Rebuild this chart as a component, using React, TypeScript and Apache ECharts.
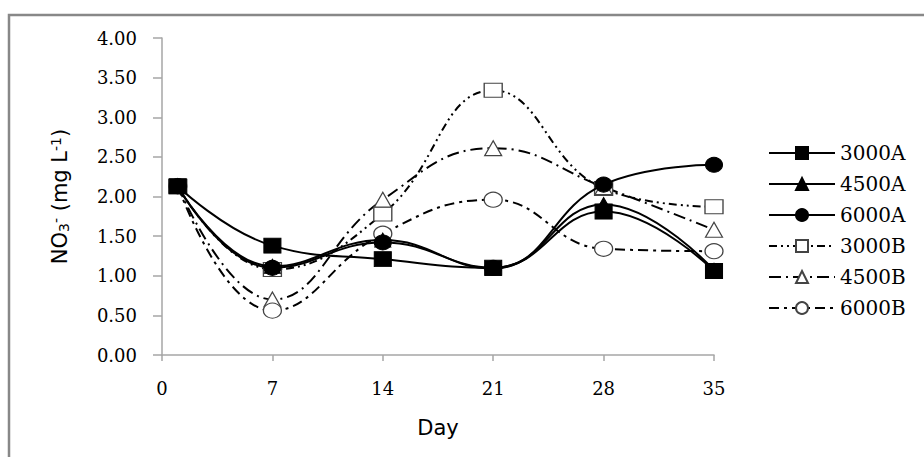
import React, { useEffect, useRef } from "react";
import * as echarts from "echarts";

const days = [1, 7, 14, 21, 28, 35];
const seriesNames = ["3000A", "4500A", "6000A", "3000B", "4500B", "6000B"];
const v3000A = [2.13, 1.38, 1.21, 1.1, 1.81, 1.06];
const v4500A = [2.13, 1.12, 1.45, 1.09, 1.9, 1.07];
const v6000A = [2.13, 1.1, 1.42, 1.1, 2.15, 2.4];
const v3000B = [2.13, 1.08, 1.78, 3.34, 2.1, 1.87];
const v4500B = [2.13, 0.7, 1.96, 2.61, 2.12, 1.58];
const v6000B = [2.13, 0.56, 1.53, 1.96, 1.34, 1.31];
const yTicks = [0, 0.5, 1, 1.5, 2, 2.5, 3, 3.5, 4];

const allValues = [v3000A, v4500A, v6000A, v3000B, v4500B, v6000B];
const symbols = ["rect", "triangle", "circle", "rect", "triangle", "circle"];
const symbolSizes: any[] = [[17, 15], [16, 14], [17, 15], [18, 14], [17, 15], [18, 15]];
const dashes: any[] = ["solid", "solid", "solid", [8, 4, 2, 4, 2, 4], [12, 5, 2, 5], [10, 5, 3, 5]];

export default function App() {
  const ref = useRef<HTMLDivElement>(null);
  useEffect(() => {
    if (!ref.current) return;
    const chart = echarts.init(ref.current, null, { renderer: "svg" });
    const series = seriesNames.map((name, i) => {
      const hollow = i >= 3;
      return {
        name,
        type: "line",
        smooth: 0.45,
        data: days.map((d, j) => [d, allValues[i][j]]),
        symbol: symbols[i],
        symbolSize: symbolSizes[i],
        z: hollow ? 2 : 3,
        lineStyle: { color: "#000", width: 2, type: dashes[i] },
        itemStyle: hollow
          ? { color: "#fff", borderColor: "#444", borderWidth: 1.2 }
          : { color: "#000", borderColor: "#000", borderWidth: 1 },
        emphasis: { disabled: true },
      };
    });
    chart.setOption({
      animation: false,
      backgroundColor: "#fff",
      grid: { left: 162, right: 210, top: 38, bottom: 102, containLabel: false },
      xAxis: {
        type: "value",
        min: 0,
        max: 35,
        interval: 7,
        name: "Day",
        nameLocation: "middle",
        nameGap: 62,
        nameTextStyle: { fontFamily: "DejaVu Sans", fontSize: 21, color: "#000" },
        axisLine: { lineStyle: { color: "#a6a6a6", width: 1.5 } },
        axisTick: { show: true, length: 6, lineStyle: { color: "#a6a6a6", width: 1.5 } },
        axisLabel: { fontFamily: "DejaVu Serif", fontSize: 18, color: "#000", margin: 24 },
        splitLine: { show: false },
      },
      yAxis: {
        type: "value",
        min: 0,
        max: 4,
        interval: 0.5,
        name: "{a|NO}{sub|3}{sup|-}{a| (mg L}{sup|-1}{a|)}",
        nameLocation: "middle",
        nameRotate: 90,
        nameGap: 91,
        nameTextStyle: {
          fontFamily: "DejaVu Sans",
          fontSize: 21,
          color: "#000",
          rich: {
            a: { fontFamily: "DejaVu Sans", fontSize: 21, color: "#000" },
            sub: { fontFamily: "DejaVu Sans", fontSize: 14, color: "#000", verticalAlign: "bottom", padding: [8, 0, 0, 0] },
            sup: { fontFamily: "DejaVu Sans", fontSize: 14, color: "#000", verticalAlign: "top", padding: [0, 0, 8, 0] },
          },
        },
        axisLine: { show: true, lineStyle: { color: "#a6a6a6", width: 1.5 } },
        axisTick: { show: true, length: 9, lineStyle: { color: "#a6a6a6", width: 1.5 } },
        axisLabel: {
          fontFamily: "DejaVu Serif",
          fontSize: 18,
          color: "#000",
          margin: 25,
          formatter: (v: number) => (yTicks.includes(v) ? v.toFixed(2) : ""),
        },
        splitLine: { show: false },
      },
      legend: {
        orient: "vertical",
        left: 763,
        top: 138,
        itemWidth: 66,
        itemHeight: 15,
        itemGap: 11,
        selectedMode: false,
        textStyle: { fontFamily: "DejaVu Serif", fontSize: 20, color: "#000" },
        data: seriesNames,
      },
      graphic: [
        {
          type: "rect",
          shape: { x: 9, y: 15, width: 1000, height: 1000 },
          style: { fill: "none", stroke: "#888", lineWidth: 2.5 },
          silent: true,
        },
      ],
      series,
    });
    return () => chart.dispose();
  }, []);
  return (
    <div
      ref={ref}
      style={{ position: "absolute", left: 0, top: 0, width: 924, height: 457 }}
    />
  );
}
